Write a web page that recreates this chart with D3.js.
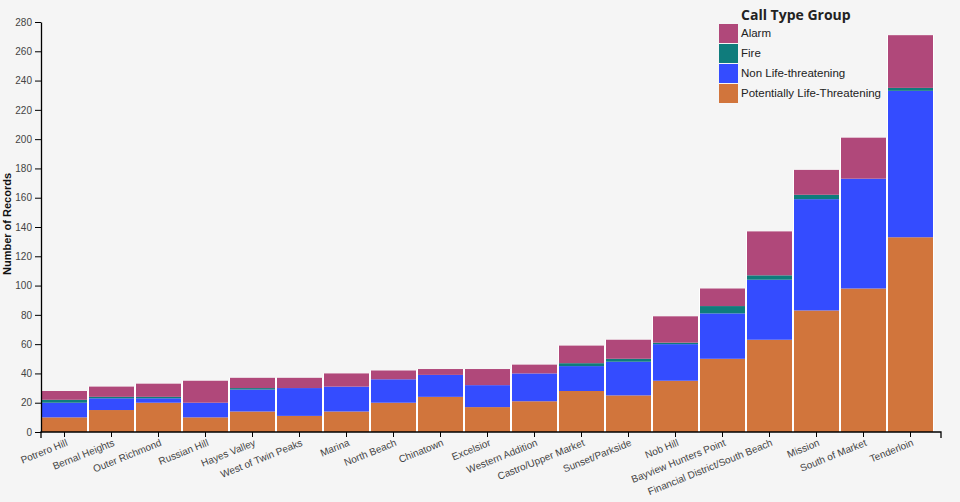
<!DOCTYPE html>
<html lang="en">
<head>
    <meta charset="UTF-8">
    <title>Call Type Group by Neighborhood</title>
    <script src="https://d3js.org/d3.v7.min.js"></script>
    <style>
        body, html {
            margin: 0;
            padding: 0;
            width: 100%;
            height: 100%;
            background: #f5f5f5;
            font-family: Arial, "Liberation Sans", sans-serif;
            overflow: hidden;
        }
        .tick text { fill: #444; }
    </style>
</head>
<body>
    <div id="chart"></div>

    <script>
        // neighborhoods, sorted by total
        const neighborhoods = ["Potrero Hill", "Bernal Heights", "Outer Richmond", "Russian Hill", "Hayes Valley",
            "West of Twin Peaks", "Marina", "North Beach", "Chinatown", "Excelsior", "Western Addition",
            "Castro/Upper Market", "Sunset/Parkside", "Nob Hill", "Bayview Hunters Point",
            "Financial District/South Beach", "Mission", "South of Market", "Tenderloin"];

        // stack order bottom -> top
        const callTypes = ["Potentially Life-Threatening", "Non Life-threatening", "Fire", "Alarm"];
        const legendOrder = ["Alarm", "Fire", "Non Life-threatening", "Potentially Life-Threatening"];

        const potentiallyLife = [10, 15, 20, 10, 14, 11, 14, 20, 24, 17, 21, 28, 25, 35, 50, 63, 83, 98, 133];
        const nonLife = [10, 8, 3, 10, 15, 19, 17, 16, 15, 15, 19, 17, 23, 25, 31, 41, 76, 75, 100];
        const fire = [2, 1, 1, 0, 1, 0, 0, 0, 0, 0, 0, 2, 2, 1, 5, 3, 3, 0, 2];
        const alarm = [6, 7, 9, 15, 7, 7, 9, 6, 4, 11, 6, 12, 13, 18, 12, 30, 17, 28, 36];

        const yTicks = d3.range(0, 281, 20);

        const colors = {
            "Alarm": "#b0487a",
            "Fire": "#0f7c7c",
            "Non Life-threatening": "#344cff",
            "Potentially Life-Threatening": "#d1753c"
        };

        const rows = neighborhoods.map((n, i) => ({
            name: n,
            "Potentially Life-Threatening": potentiallyLife[i],
            "Non Life-threatening": nonLife[i],
            "Fire": fire[i],
            "Alarm": alarm[i]
        }));

        const width = 960, height = 502;
        const margin = {top: 22, left: 41, bottom: 70};
        const plotBottom = height - margin.bottom;

        const svg = d3.select("#chart").append("svg")
            .attr("width", width)
            .attr("height", height);

        const x = d3.scaleBand()
            .domain(neighborhoods)
            .range([margin.left, 934])
            .padding(0);

        const y = d3.scaleLinear()
            .domain([0, 280])
            .range([plotBottom, margin.top]);

        const series = d3.stack().keys(callTypes)(rows);
        const total = d => callTypes.reduce((s, k) => s + d[k], 0);

        // white backing so the gaps between bars read white
        svg.append("g").selectAll("rect")
            .data(rows)
            .join("rect")
            .attr("x", d => x(d.name))
            .attr("width", x.bandwidth())
            .attr("y", d => y(total(d)))
            .attr("height", d => plotBottom - y(total(d)))
            .attr("fill", "#fff");

        svg.append("g").selectAll("g")
            .data(series)
            .join("g")
            .attr("fill", d => colors[d.key])
            .selectAll("rect")
            .data(d => d)
            .join("rect")
            .attr("x", d => x(d.data.name) + 1)
            .attr("width", x.bandwidth() - 2)
            .attr("y", d => y(d[1]))
            .attr("height", d => y(d[0]) - y(d[1]));

        // x axis
        const xAxis = svg.append("g")
            .attr("transform", `translate(0,${plotBottom})`)
            .call(d3.axisBottom(x).tickSize(5).tickSizeOuter(6));
        xAxis.select(".domain")
            .attr("d", `M${margin.left},6V0H${x.range()[1] + 7}V6`)
            .attr("stroke-width", 1.3);
        xAxis.selectAll(".tick text")
            .attr("text-anchor", "end")
            .attr("font-size", 10)
            .attr("font-family", "Arial, 'Liberation Sans', sans-serif")
            .attr("dy", "0.2em")
            .attr("transform", "translate(0,4) rotate(-22)");

        // y axis
        const yAxis = svg.append("g")
            .attr("transform", `translate(${margin.left},0)`)
            .call(d3.axisLeft(y).tickValues(yTicks).tickSize(6).tickSizeOuter(0));
        yAxis.select(".domain").attr("stroke-width", 1.3);
        yAxis.selectAll(".tick text")
            .attr("font-size", 10)
            .attr("font-family", "Arial, 'Liberation Sans', sans-serif");

        svg.append("text")
            .attr("transform", `translate(11,${(margin.top + plotBottom) / 2 - 3}) rotate(-90)`)
            .attr("text-anchor", "middle")
            .attr("font-size", 11)
            .attr("font-weight", "bold")
            .attr("fill", "#111")
            .text("Number of Records");

        // legend
        const legend = svg.append("g").attr("transform", "translate(719,24)");
        legend.append("text")
            .attr("x", 22)
            .attr("y", -4)
            .attr("font-family", "'Open Sans', sans-serif")
            .attr("font-weight", "bold")
            .attr("font-size", 14)
            .attr("fill", "#222")
            .text("Call Type Group");

        const item = legend.selectAll(".item")
            .data(legendOrder)
            .join("g")
            .attr("class", "item")
            .attr("transform", (d, i) => `translate(0,${i * 20})`);
        item.append("rect")
            .attr("width", 19)
            .attr("height", 19)
            .attr("fill", d => colors[d]);
        item.append("text")
            .attr("x", 22)
            .attr("y", 9)
            .attr("dy", "0.35em")
            .attr("font-size", 11.5)
            .attr("fill", "#222")
            .text(d => d);
    </script>
</body>
</html>
